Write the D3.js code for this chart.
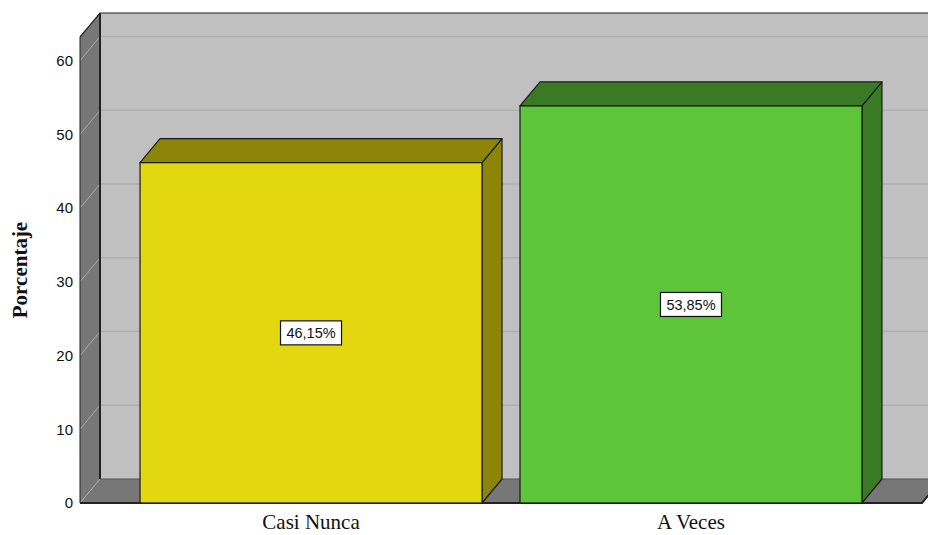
<!DOCTYPE html>
<html>
<head>
<meta charset="utf-8">
<script src="https://cdn.jsdelivr.net/npm/d3@7"></script>
<style>
  html, body { margin: 0; padding: 0; background: #fff; }
</style>
</head>
<body>
<div id="chart"></div>
<script>
const width = 928;
const height = 535;

// data
const categories = ["Casi Nunca", "A Veces"];
const percentages = [46.15, 53.85];
const valueLabels = ["46,15%", "53,85%"];
const yTicks = [0, 10, 20, 30, 40, 50, 60];
const yTitle = "Porcentaje";

const frontColors = ["#e3d80f", "#5ec43a"];
const darkColors = ["#8d8508", "#3b7a25"];

// 3D depth offset
const dx = 20, dy = -24;

const svg = d3.select("#chart").append("svg")
    .attr("width", width)
    .attr("height", height);

const x = d3.scaleBand()
    .domain(categories)
    .range([80, 922])
    .paddingInner(0.1)
    .paddingOuter(0.158);

const y = d3.scaleLinear()
    .domain([0, 63.2])
    .range([503, 37]);

const plotLeft = 80, plotRight = 922;
const plotBottom = y(0), plotTop = y(63.2);

// back wall
svg.append("rect")
    .attr("x", plotLeft + dx).attr("y", plotTop + dy)
    .attr("width", width - plotLeft - dx + 40).attr("height", plotBottom - plotTop)
    .attr("fill", "#c0c0c0");

// left wall
svg.append("path")
    .attr("d", `M${plotLeft},${plotTop}L${plotLeft + dx},${plotTop + dy}L${plotLeft + dx},${plotBottom + dy}L${plotLeft},${plotBottom}Z`)
    .attr("fill", "#777777");

// floor
svg.append("path")
    .attr("d", `M${plotLeft},${plotBottom}L${plotLeft + dx},${plotBottom + dy}L${plotRight + dx},${plotBottom + dy}L${plotRight},${plotBottom}Z`)
    .attr("fill", "#777777");

// gridlines: back wall horizontal + left wall diagonal
const grid = svg.append("g");
grid.selectAll(".gb")
    .data(yTicks.filter(d => d > 0))
    .enter().append("line")
    .attr("x1", plotLeft + dx).attr("x2", width)
    .attr("y1", d => y(d) + dy).attr("y2", d => y(d) + dy)
    .attr("stroke", "#b0b0b0").attr("stroke-width", 1.5);
grid.selectAll(".gl")
    .data(yTicks)
    .enter().append("line")
    .attr("x1", plotLeft).attr("x2", plotLeft + dx)
    .attr("y1", d => y(d)).attr("y2", d => y(d) + dy)
    .attr("stroke", "#a8a8a8").attr("stroke-width", 1);

// wall borders
const edge = "#222";
svg.append("path")
    .attr("d", `M${plotLeft},${plotTop}L${plotLeft + dx},${plotTop + dy}L${width},${plotTop + dy}`)
    .attr("fill", "none").attr("stroke", edge).attr("stroke-width", 1.2);
svg.append("line")
    .attr("x1", plotLeft + dx).attr("x2", plotLeft + dx)
    .attr("y1", plotTop + dy).attr("y2", plotBottom + dy)
    .attr("stroke", edge).attr("stroke-width", 2);
svg.append("line")
    .attr("x1", plotLeft).attr("x2", plotLeft)
    .attr("y1", plotTop).attr("y2", plotBottom)
    .attr("stroke", edge).attr("stroke-width", 1);
svg.append("line")
    .attr("x1", plotLeft + dx).attr("x2", width)
    .attr("y1", plotBottom + dy).attr("y2", plotBottom + dy)
    .attr("stroke", "#555").attr("stroke-width", 1);
svg.append("path")
    .attr("d", `M${plotLeft},${plotBottom}L${plotRight},${plotBottom}L${plotRight + dx},${plotBottom + dy}`)
    .attr("fill", "none").attr("stroke", edge).attr("stroke-width", 2);

// bars
const bars = svg.selectAll(".bar")
    .data(categories)
    .enter().append("g")
    .attr("class", "bar");

bars.append("path") // side face
    .attr("d", (d, i) => {
        const x1 = x(d) + x.bandwidth(), yt = y(percentages[i]);
        return `M${x1},${yt}L${x1 + dx},${yt + dy}L${x1 + dx},${plotBottom + dy}L${x1},${plotBottom}Z`;
    })
    .attr("fill", (d, i) => darkColors[i])
    .attr("stroke", "#1a1a1a").attr("stroke-width", 1.2).attr("stroke-linejoin", "round");

bars.append("path") // top face
    .attr("d", (d, i) => {
        const x0 = x(d), x1 = x0 + x.bandwidth(), yt = y(percentages[i]);
        return `M${x0},${yt}L${x0 + dx},${yt + dy}L${x1 + dx},${yt + dy}L${x1},${yt}Z`;
    })
    .attr("fill", (d, i) => darkColors[i])
    .attr("stroke", "#1a1a1a").attr("stroke-width", 1.2).attr("stroke-linejoin", "round");

bars.append("rect") // front face
    .attr("x", d => x(d))
    .attr("y", (d, i) => y(percentages[i]))
    .attr("width", x.bandwidth())
    .attr("height", (d, i) => plotBottom - y(percentages[i]))
    .attr("fill", (d, i) => frontColors[i])
    .attr("stroke", "#1a1a1a").attr("stroke-width", 1.2);

// value labels
const lbl = bars.append("g")
    .attr("transform", (d, i) => `translate(${x(d) + x.bandwidth() / 2},${(y(percentages[i]) + plotBottom) / 2})`);
lbl.append("rect")
    .attr("x", -30.5).attr("y", -12)
    .attr("width", 61).attr("height", 24)
    .attr("fill", "#fff").attr("stroke", "#111").attr("stroke-width", 1.2);
lbl.append("text")
    .attr("text-anchor", "middle")
    .attr("dy", "0.36em")
    .attr("font-family", "Liberation Sans, Arial, sans-serif")
    .attr("font-size", "14.5px")
    .attr("fill", "#111")
    .text((d, i) => valueLabels[i]);

// y axis
const yAxis = svg.append("g")
    .attr("transform", `translate(${plotLeft},0)`)
    .call(d3.axisLeft(y).tickValues(yTicks).tickSize(0).tickPadding(7).tickFormat(d3.format("d")));
yAxis.select(".domain").remove();
yAxis.selectAll("text")
    .attr("font-family", "Liberation Sans, Arial, sans-serif")
    .attr("font-size", "15px")
    .attr("fill", "#111");

// x axis
const xAxis = svg.append("g")
    .attr("transform", `translate(0,${plotBottom})`)
    .call(d3.axisBottom(x).tickSize(0).tickPadding(11));
xAxis.select(".domain").remove();
xAxis.selectAll("text")
    .attr("font-family", "Liberation Serif, Times New Roman, serif")
    .attr("font-size", "21px")
    .attr("fill", "#111");

// y title
svg.append("text")
    .attr("transform", `translate(27,${(plotTop + plotBottom) / 2}) rotate(-90)`)
    .attr("text-anchor", "middle")
    .attr("font-family", "Liberation Serif, Times New Roman, serif")
    .attr("font-weight", "bold")
    .attr("font-size", "21px")
    .attr("fill", "#111")
    .text(yTitle);
</script>
</body>
</html>
